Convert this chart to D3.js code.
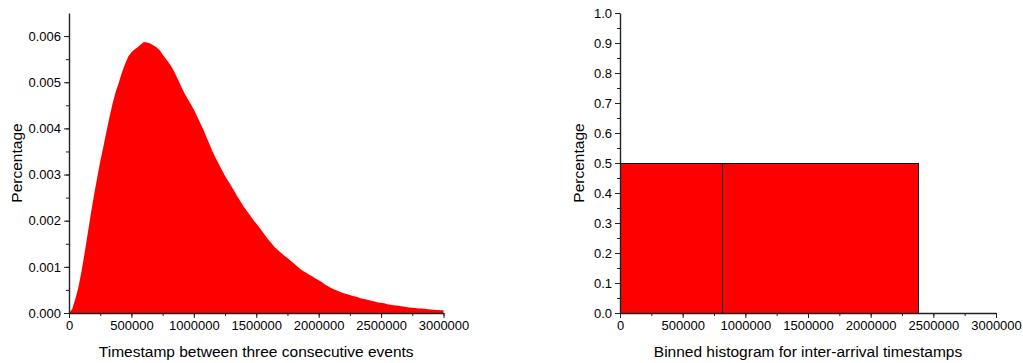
<!DOCTYPE html>
<html>
<head>
<meta charset="utf-8">
<script src="https://cdn.jsdelivr.net/npm/d3@7"></script>
<style>
  html, body { margin: 0; padding: 0; background: #fff; }
  svg { display: block; font-family: "Liberation Sans", Arial, sans-serif; }
</style>
</head>
<body>
<div id="chart"></div>
<script>
const leftStep = 25000;
const leftValues = [
  0.00000, 0.00008, 0.00030, 0.00055, 0.00090, 0.00130, 0.00172, 0.00215,
  0.00255, 0.00292, 0.00328, 0.00360, 0.00393, 0.00425, 0.00455, 0.00480,
  0.00500, 0.00522, 0.00540, 0.00556, 0.00565, 0.00571, 0.00576, 0.00582,
  0.00587, 0.00586, 0.00584, 0.00580, 0.00576, 0.00570, 0.00560, 0.00551,
  0.00542, 0.00532, 0.00519, 0.00505, 0.00490, 0.00476, 0.00464, 0.00453,
  0.00441, 0.00427, 0.00412, 0.00398, 0.00382, 0.00366, 0.00350, 0.00336,
  0.00323, 0.00310, 0.00297, 0.00286, 0.00275, 0.00264, 0.00252, 0.00241,
  0.00230, 0.00221, 0.00212, 0.00202, 0.00194, 0.00185, 0.00176, 0.00167,
  0.00158, 0.00150, 0.00142, 0.00136, 0.00130, 0.00124, 0.00119, 0.00113,
  0.00108, 0.00102, 0.00096, 0.00091, 0.00087, 0.00083, 0.00079, 0.00075,
  0.00071, 0.00067, 0.00062, 0.00058, 0.00054, 0.00051, 0.00048, 0.000455,
  0.00043, 0.00041, 0.00039, 0.00037, 0.00035, 0.00033, 0.00031, 0.00030,
  0.00028, 0.00026, 0.00025, 0.00023, 0.00022, 0.00021, 0.00019, 0.00018,
  0.00017, 0.00016, 0.00015, 0.00014, 0.00013, 0.00012, 0.000115, 0.00011,
  0.00010, 0.000095, 0.00009, 0.00008, 0.000075, 0.00007, 0.000065, 0.00006,
  0.00006
];

// right panel: two wide bins
const rightBinEdges = [0, 811000, 2379000];
const rightValues = [0.5, 0.5];

const xTicks = [0, 500000, 1000000, 1500000, 2000000, 2500000, 3000000];
const leftYTicks = [0, 0.001, 0.002, 0.003, 0.004, 0.005, 0.006];
const rightYTicks = [0, 0.1, 0.2, 0.3, 0.4, 0.5, 0.6, 0.7, 0.8, 0.9, 1.0];

const leftXLabel = "Timestamp between three consecutive events";
const rightXLabel = "Binned histogram for inter-arrival timestamps";
const yLabel = "Percentage";

const W = 1023, H = 363;
const svg = d3.select("#chart").append("svg").attr("width", W).attr("height", H);

function panel(opts) {
  const x = d3.scaleLinear().domain([0, 3000000]).range([opts.x0, opts.x1]);
  const y = d3.scaleLinear().domain(opts.yDomain).range([313, 13]);
  const g = svg.append("g");

  opts.drawBars(g, x, y);

  // minor ticks first so the major axis sits on top
  g.append("g")
    .attr("transform", "translate(0,313)")
    .call(d3.axisBottom(x).tickValues(d3.range(0, 3000001, 250000)).tickSize(3).tickFormat(""))
    .call(a => a.select(".domain").remove());
  g.append("g")
    .attr("transform", `translate(${opts.x0},0)`)
    .call(d3.axisLeft(y).tickValues(opts.yMinor).tickSize(3).tickFormat(""))
    .call(a => a.select(".domain").remove());

  const xa = g.append("g")
    .attr("transform", "translate(0,313)")
    .call(d3.axisBottom(x).tickValues(xTicks).tickSize(5).tickSizeOuter(0).tickPadding(3).tickFormat(d3.format("d")));
  const ya = g.append("g")
    .attr("transform", `translate(${opts.x0},0)`)
    .call(d3.axisLeft(y).tickValues(opts.yTicks).tickSize(5).tickSizeOuter(0).tickPadding(3).tickFormat(opts.yFormat));

  g.selectAll("g").attr("font-family", null).attr("font-size", null);
  [xa, ya].forEach(a => {
    a.selectAll("text").attr("font-size", 13).attr("fill", "#000");
    a.select(".domain").attr("stroke", "#222").attr("stroke-width", 1.4);
  });
  g.selectAll("line").attr("stroke", "#222");

  g.append("text")
    .attr("x", (opts.x0 + opts.x1) / 2)
    .attr("y", 357)
    .attr("text-anchor", "middle")
    .attr("font-size", 15.5)
    .text(opts.xLabel);

  g.append("text")
    .attr("transform", `translate(${opts.yLabelX},163) rotate(-90)`)
    .attr("text-anchor", "middle")
    .attr("font-size", 15.5)
    .text(yLabel);
}

panel({
  x0: 69, x1: 443.5,
  yDomain: [0, 0.0065],
  yTicks: leftYTicks,
  yMinor: d3.range(0, 0.0065, 0.0005),
  yFormat: d3.format(".3f"),
  xLabel: leftXLabel,
  yLabelX: 22,
  drawBars: (g, x, y) => {
    const area = d3.area()
      .x((d, i) => x(i * leftStep))
      .y0(y(0))
      .y1(d => y(d));
    g.append("path").datum(leftValues).attr("d", area).attr("fill", "#ff0000");
  }
});

panel({
  x0: 620, x1: 996,
  yDomain: [0, 1],
  yTicks: rightYTicks,
  yMinor: d3.range(0, 1.0001, 0.05),
  yFormat: d3.format(".1f"),
  xLabel: rightXLabel,
  yLabelX: 584,
  drawBars: (g, x, y) => {
    const bins = rightValues.map((v, i) => ({ x0: rightBinEdges[i], x1: rightBinEdges[i + 1], v }));
    g.selectAll("rect.bin").data(bins).join("rect")
      .attr("class", "bin")
      .attr("x", d => Math.round(x(d.x0)) + 0.5)
      .attr("y", d => Math.round(y(d.v)) + 0.5)
      .attr("width", d => Math.round(x(d.x1)) - Math.round(x(d.x0)))
      .attr("height", d => Math.round(y(0)) - Math.round(y(d.v)))
      .attr("fill", "#ff0000")
      .attr("stroke", "#111")
      .attr("stroke-width", 1);
  }
});
</script>
</body>
</html>
